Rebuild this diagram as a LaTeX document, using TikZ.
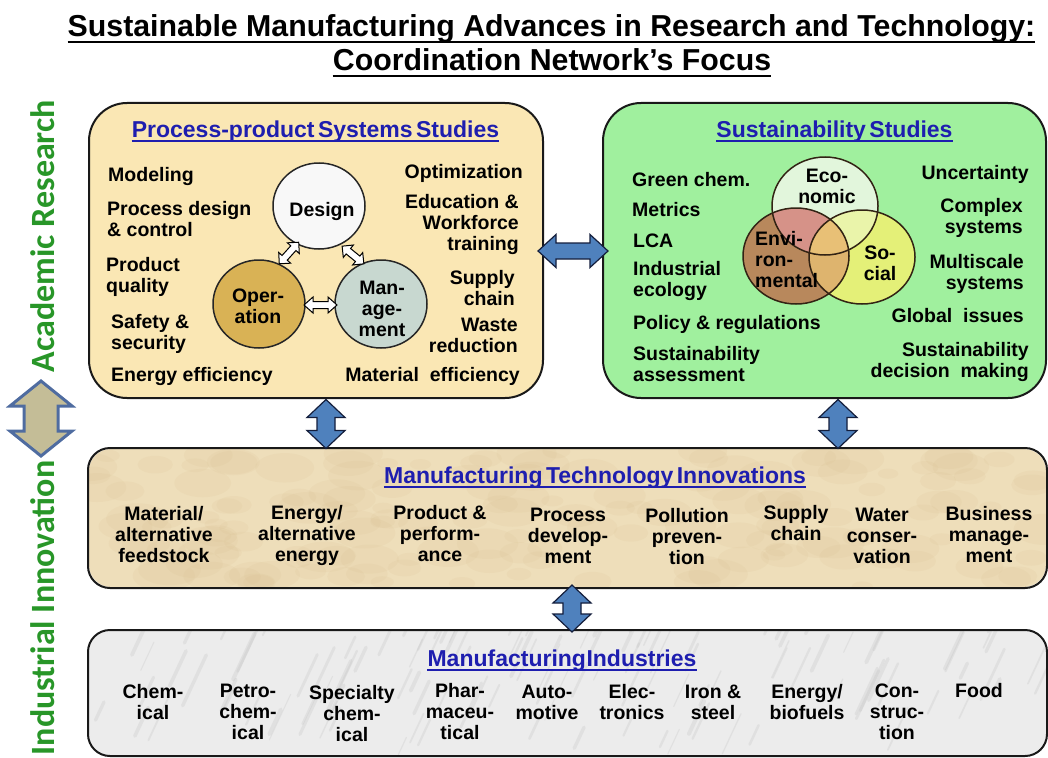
\documentclass[tikz,border=0pt]{standalone}
\usepackage{fontspec}
\setmainfont{Liberation Sans}
\newfontfamily\sidefont{Carlito}
\usetikzlibrary{calc,shapes.geometric}
\definecolor{ppfill}{RGB}{250,231,180}
\definecolor{ssfill}{RGB}{160,240,158}
\definecolor{mtfill}{RGB}{238,222,186}
\definecolor{mtdark}{RGB}{214,188,140}
\definecolor{mifill}{RGB}{236,236,236}
\definecolor{midark}{RGB}{190,190,190}
\definecolor{ttlblue}{RGB}{30,30,175}
\definecolor{arrblue}{RGB}{79,129,189}
\definecolor{arrline}{RGB}{20,30,60}
\definecolor{sidegreen}{RGB}{40,150,40}
\definecolor{sidefill}{RGB}{196,189,151}
\definecolor{sideline}{RGB}{79,108,160}
\definecolor{desfill}{RGB}{248,248,248}
\definecolor{opfill}{RGB}{217,178,85}
\definecolor{mgfill}{RGB}{200,216,208}
\definecolor{ecofill}{RGB}{226,246,220}
\definecolor{envfill}{RGB}{184,136,92}
\definecolor{socfill}{RGB}{228,240,120}
\definecolor{ecenv}{RGB}{214,146,136}
\definecolor{ecsoc}{RGB}{234,244,170}
\definecolor{ensoc}{RGB}{222,180,110}
\definecolor{allthree}{RGB}{232,192,118}
\definecolor{vennline}{RGB}{50,35,20}
\tikzset{
  pics/dblarrow/.style args={#1/#2/#3/#4}{code={
    \path[pic actions] (-#1/2,0) -- (-#1/2+#4,#2/2) -- (-#1/2+#4,#3/2) -- (#1/2-#4,#3/2)
      -- (#1/2-#4,#2/2) -- (#1/2,0) -- (#1/2-#4,-#2/2) -- (#1/2-#4,-#3/2)
      -- (-#1/2+#4,-#3/2) -- (-#1/2+#4,-#2/2) -- cycle;
  }},
  bluearr/.style={fill=arrblue, draw=arrline, line width=1.2pt, line join=miter},
  whitearr/.style={fill=white, draw=black, line width=1pt},
  sidearr/.style={fill=sidefill, draw=sideline, line width=3pt, line join=miter},
  bigbox/.style={draw=black!90, line width=2pt, rounded corners=38pt},
  lowbox/.style={line width=2pt, rounded corners=22pt},
  lowborder/.style={draw=black!90, line width=2pt, rounded corners=22pt},
  txt/.style={font=\fontsize{19.5}{21}\selectfont\bfseries, inner sep=0pt, text=black},
  lt/.style={txt, anchor=west, align=left},
  rt/.style={txt, anchor=east, align=right},
  ct/.style={txt, anchor=center, align=center},
  sectitle/.style={font=\fontsize{23}{26}\selectfont\bfseries, text=ttlblue, inner sep=0pt, anchor=base},
  maintitle/.style={font=\fontsize{30.3}{33}\selectfont\bfseries, inner sep=0pt, anchor=base},
  sidetxt/.style={font=\sidefont\fontsize{34}{36}\selectfont\bfseries, text=sidegreen, inner sep=0pt, rotate=90},
  circ/.style={ellipse, draw=black!85, line width=1.5pt, inner sep=0pt},
}
\newcommand\tightsp{\spaceskip=0.15em\relax}
\begin{document}
\begin{tikzpicture}[x=1pt,y=-1pt]
\useasboundingbox (0,0) rectangle (1048,757);
\fill[white] (0,0) rectangle (1048,757);

% titles
\node[maintitle] (t1) at (551.5,37) {Sustainable Manufacturing Advances in Research and Technology:};
\draw[line width=2.3pt] ([yshift=-5pt]t1.base west) -- ([yshift=-5pt]t1.base east);
\node[maintitle] (t2) at (552,71) {Coordination Network’s Focus};
\draw[line width=2.3pt] ([yshift=-5pt]t2.base west) -- ([yshift=-5pt]t2.base east);

% side labels
\node[sidetxt] (acad) at (43,236) {Academic Research};
\node[sidetxt] (indu) at (43,608) {Industrial Innovation};
\pic[sidearr, rotate=90] at (41,418.5) {dblarrow=75/62/34/25};

% boxes
\node[bigbox, fill=ppfill, minimum width=454pt, minimum height=295pt] (ppss) at (316,250.5) {};
\node[bigbox, fill=ssfill, minimum width=443pt, minimum height=295pt] (sust) at (824.5,250.5) {};
\node[lowbox, fill=mtfill, minimum width=957pt, minimum height=138pt] (mti) at (567.5,518) {};
\node[lowbox, fill=mifill, minimum width=957pt, minimum height=124pt] (mind) at (567.5,693) {};

% textures
\pgfmathsetseed{7}
\begin{scope}
\clip[rounded corners=22pt] (mti.south west) rectangle (mti.north east);
\foreach \k in {1,...,160}{
  \pgfmathsetmacro\xx{89+957*rnd}
  \pgfmathsetmacro\yy{449+138*rnd}
  \pgfmathsetmacro\rr{10+22*rnd}
  \fill[mtdark, opacity=0.12] (\xx,\yy) ellipse [x radius=\rr pt, y radius=0.5*\rr pt];
}
\end{scope}
\begin{scope}
\clip[rounded corners=22pt] (mind.south west) rectangle (mind.north east);
\foreach \k in {1,...,120}{
  \pgfmathsetmacro\xx{89+957*rnd}
  \pgfmathsetmacro\yy{631+124*rnd}
  \pgfmathsetmacro\ss{0.5+1.2*rnd}
  \pgfmathsetmacro\ww{1+3*rnd}
  \draw[midark, opacity=0.25, line width=\ww pt, line cap=round] (\xx,\yy) -- ++(14*\ss,-30*\ss);
}
\end{scope}
\draw[lowborder] (mti.south west) rectangle (mti.north east);
\draw[lowborder] (mind.south west) rectangle (mind.north east);

% block arrows
\pic[bluearr] at (573,251) {dblarrow=70/33/16/18};
\pic[bluearr, rotate=90] at (326,424) {dblarrow=49/38/18/18};
\pic[bluearr, rotate=90] at (838,424) {dblarrow=49/38/18/18};
\pic[bluearr, rotate=90] at (572,608.5) {dblarrow=47/38/18/18};

% section titles
\node[sectitle] (h1) at (315.5,137) {\tightsp Process-product Systems Studies};
\draw[ttlblue, line width=1.6pt] ([yshift=-4pt]h1.base west) -- ([yshift=-4pt]h1.base east);
\node[sectitle] (h2) at (834.5,137) {\tightsp Sustainability Studies};
\draw[ttlblue, line width=1.6pt] ([yshift=-4pt]h2.base west) -- ([yshift=-4pt]h2.base east);
\node[sectitle] (h3) at (595,483) {\tightsp Manufacturing Technology Innovations};
\draw[ttlblue, line width=1.6pt] ([yshift=-4pt]h3.base west) -- ([yshift=-4pt]h3.base east);
\node[sectitle] (h4) at (562,666) {Manufacturing\kern0.5pt Industries};
\draw[ttlblue, line width=1.6pt] ([yshift=-4pt]h4.base west) -- ([yshift=-4pt]h4.base east);

% process-product circles
\node[circ, fill=desfill, minimum width=92pt, minimum height=86pt] (design) at (319,206) {};
\node[circ, fill=opfill, minimum width=92pt, minimum height=88pt] (oper) at (259,304) {};
\node[circ, fill=mgfill, minimum width=92pt, minimum height=88pt] (mgmt) at (381,304) {};
\pic[whitearr, rotate=48] at (289,253) {dblarrow=29/16/7/8};
\pic[whitearr, rotate=-39] at (353,255) {dblarrow=28/16/7/8};
\pic[whitearr] at (320.5,305) {dblarrow=33/16/7/9};
\node[ct] (designl) at (322,211) {Design};
\node[ct] (operl) at (258,306) {Oper-\\ation};
\node[ct] (mgmtl) at (382,309) {Man-\\age-\\ment};

% left box items
\node[lt] (modeling) at (108,176) {Modeling};
\node[lt] (pdc) at (107,219) {Process design\\\& control};
\node[lt] (pq) at (106,277) {Product\\quality};
\node[lt] (safe) at (111,334) {Safety \&\\security};
\node[lt] (ee) at (111,376) {Energy efficiency};
\node[rt] (opt) at (523,173) {Optimization};
\node[rt] (edu) at (519,224) {Education \&\\Workforce\\training};
\node[rt] (sc) at (515,288) {Supply\\chain};
\node[rt] (wr) at (518,335) {Waste\\reduction};
\node[rt] (me) at (520,376) {Material\ \ efficiency};

% Venn diagram
\def\eco{(825,206) ellipse [x radius=53pt, y radius=49pt]}
\def\env{(796,256) ellipse [x radius=53pt, y radius=48pt]}
\def\soc{(862,257) ellipse [x radius=53pt, y radius=47pt]}
\fill[ecofill] \eco;
\fill[envfill] \env;
\fill[socfill] \soc;
\begin{scope}\clip \eco; \fill[ecenv] \env; \end{scope}
\begin{scope}\clip \eco; \fill[ecsoc] \soc; \end{scope}
\begin{scope}\clip \env; \fill[ensoc] \soc; \end{scope}
\begin{scope}\clip \eco; \clip \env; \fill[allthree] \soc; \end{scope}
\draw[vennline, line width=1.5pt] \eco;
\draw[vennline, line width=1.5pt] \env;
\draw[vennline, line width=1.5pt] \soc;
\node[ct] (ecol) at (827,186) {Eco-\\nomic};
\node[lt] (envl) at (755,260) {Envi-\\ron-\\mental};
\node[ct] (socl) at (880,263) {So-\\cial};

% right box items
\node[lt] (gc) at (632,180) {Green chem.};
\node[lt] (met) at (632,210) {Metrics};
\node[lt] (lca) at (633,241) {LCA};
\node[lt] (ie) at (633,281) {Industrial\\ecology};
\node[lt] (pr) at (633,324) {Policy \& regulations};
\node[lt] (sa) at (633,364) {Sustainability\\assessment};
\node[rt] (unc) at (1029,174) {Uncertainty};
\node[rt] (cs) at (1023,218) {Complex\\systems};
\node[rt] (ms) at (1024,274) {Multiscale\\systems};
\node[rt] (gi) at (1024,316) {Global\ \ issues};
\node[rt] (sdm) at (1029,362) {Sustainability\\decision\ \ making};

% technology innovations
\node[ct] (m1) at (164,535) {Material/\\alternative\\feedstock};
\node[ct] (m2) at (307,535) {Energy/\\alternative\\energy};
\node[ct] (m3) at (440,534) {Product \&\\perform-\\ance};
\node[ct] (m4) at (568,536) {Process\\develop-\\ment};
\node[ct] (m5) at (687,537) {Pollution\\preven-\\tion};
\node[ct] (m6) at (796,523) {Supply\\chain};
\node[ct] (m7) at (882,536) {Water\\conser-\\vation};
\node[ct] (m8) at (989,535) {Business\\manage-\\ment};

% industries
\node[ct] (i1) at (153,702) {Chem-\\ical};
\node[ct] (i2) at (248,712) {Petro-\\chem-\\ical};
\node[ct] (i3) at (352,714) {Specialty\\chem-\\ical};
\node[ct] (i4) at (460,712) {Phar-\\maceu-\\tical};
\node[ct] (i5) at (547,702) {Auto-\\motive};
\node[ct] (i6) at (632,702) {Elec-\\tronics};
\node[ct] (i7) at (713,702) {Iron \&\\steel};
\node[ct] (i8) at (807,702) {Energy/\\biofuels};
\node[ct] (i9) at (897,712) {Con-\\struc-\\tion};
\node[ct] (i10) at (979,691) {Food};
\end{tikzpicture}
\end{document}
